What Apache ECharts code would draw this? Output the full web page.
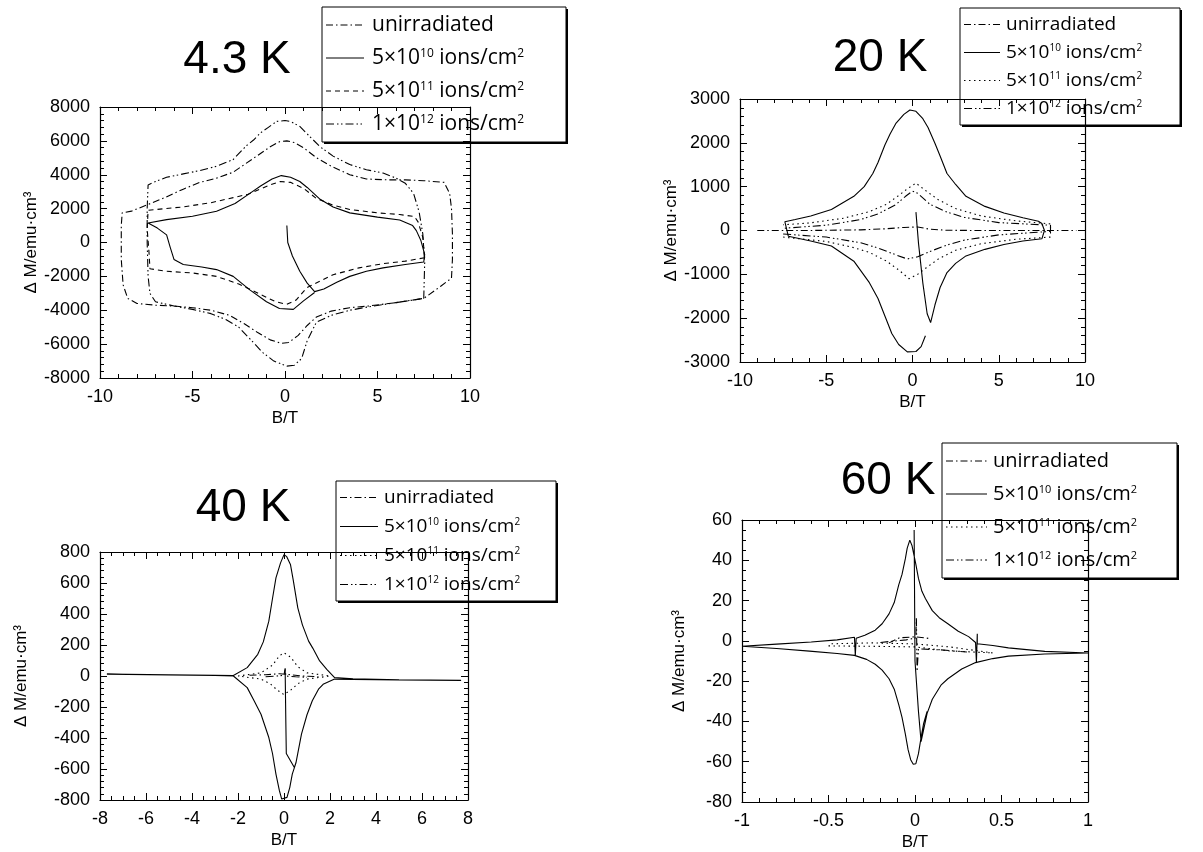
<!DOCTYPE html>
<html>
<head>
<meta charset="utf-8">
<script src="https://cdn.jsdelivr.net/npm/echarts@6/dist/echarts.min.js"></script>
<style>
  html, body { margin: 0; padding: 0; background: #ffffff; }
  #chart { width: 1203px; height: 852px; }
</style>
</head>
<body>
<div id="chart"></div>
<script>
// ---------- legend labels (rich text: {s|..} is a superscript) ----------
const legendLabels = [
  'unirradiated',
  '5×10{s|10} ions/cm{s|2}',
  '5×10{s|11} ions/cm{s|2}',
  '1×10{s|12} ions/cm{s|2}'
];
const panelTitles = ['4.3 K', '20 K', '40 K', '60 K'];
const yAxisTitle = 'Δ M/emu·cm³';
const xAxisTitle = 'B/T';

// ---------- axis ranges: [min, max, interval, minor splits] ----------
const t43X = [-10, 10, 5, 5],   t43Y = [-8000, 8000, 2000, 5];
const t20X = [-10, 10, 5, 5],   t20Y = [-3000, 3000, 1000, 5];
const t40X = [-8, 8, 2, 4],     t40Y = [-800, 800, 200, 5];
const t60X = [-1, 1, 0.5, 5],   t60Y = [-80, 60, 20, 4];

// ---------- 4.3 K loops [B (T), ΔM (emu/cm³)] ----------
const t43Unirr = [[9.0,-2100],[9.05,-1000],[9.05,500],[9.0,2000],[8.9,2900],[8.6,3550],[7.5,3650],[6.5,3700],[5.5,3700],[4.4,3750],[3.5,4000],[2.5,4500],[1.7,5000],[1.0,5600],[0.5,5900],[0.1,6000],[-0.3,5950],[-0.8,5650],[-1.4,5200],[-2.2,4600],[-2.8,4150],[-3.7,3800],[-4.6,3550],[-5.5,3150],[-6.5,2650],[-7.5,2200],[-8.3,1850],[-8.8,1750],[-8.85,1000],[-8.85,-1000],[-8.75,-2500],[-8.5,-3300],[-8.0,-3600],[-7.0,-3700],[-6.0,-3750],[-5.0,-3850],[-4.0,-4000],[-3.0,-4300],[-2.2,-4800],[-1.5,-5300],[-0.8,-5750],[-0.2,-5950],[0.2,-5900],[0.7,-5500],[1.2,-4900],[1.7,-4400],[2.5,-4050],[3.5,-3850],[4.5,-3750],[6.0,-3550],[7.5,-3300],[8.4,-2600],[9.0,-2100]];
const t43Low = [[0.1,1000],[0.15,0],[0.4,-800],[0.8,-1700],[1.2,-2400],[1.6,-2900],[2.1,-2750],[2.8,-2350],[3.5,-2000],[4.4,-1700],[5.3,-1500],[6.5,-1300],[7.5,-1150],[7.55,-700],[7.35,100],[7.1,700],[6.9,1000],[6.2,1330],[5.0,1500],[3.5,1750],[2.6,2100],[1.9,2550],[1.2,3250],[0.8,3600],[0.3,3850],[-0.2,3950],[-0.7,3750],[-1.3,3350],[-1.9,2900],[-2.7,2300],[-3.7,1850],[-5.0,1550],[-6.4,1350],[-7.4,1150],[-6.9,850],[-6.4,450],[-6.2,-300],[-6.0,-1000],[-5.5,-1300],[-4.5,-1450],[-3.7,-1600],[-2.8,-2000],[-1.9,-2800],[-1.0,-3500],[-0.3,-3900],[0.45,-3950],[1.0,-3450],[1.6,-2950]];
const t43Mid = [[7.55,-900],[7.45,300],[7.2,1200],[7.0,1530],[6.2,1650],[5.0,1750],[3.5,1950],[2.6,2200],[1.7,2600],[1.0,3200],[0.3,3550],[-0.27,3600],[-0.8,3400],[-1.35,3150],[-2.0,2850],[-2.8,2650],[-4.0,2350],[-5.5,2100],[-6.5,2000],[-7.4,1900],[-7.45,800],[-7.35,-600],[-7.3,-1550],[-6.4,-1700],[-5.0,-1800],[-3.7,-2000],[-2.5,-2450],[-1.35,-3050],[-0.5,-3500],[0.1,-3650],[0.6,-3400],[1.2,-2650],[2.6,-1900],[4.0,-1500],[5.3,-1250],[6.5,-1100],[7.55,-900]];
const t43High = [[7.5,-3300],[7.55,-1200],[7.45,500],[7.25,1800],[6.95,2900],[6.5,3500],[6.0,3800],[5.3,4100],[4.4,4300],[3.5,4600],[2.6,5100],[1.9,5650],[1.3,6300],[0.8,6850],[0.3,7150],[0.0,7200],[-0.45,7150],[-0.9,6800],[-1.35,6450],[-1.7,6050],[-2.1,5700],[-2.8,4900],[-3.7,4500],[-4.6,4250],[-5.5,4050],[-6.4,3850],[-7.0,3600],[-7.4,3400],[-7.45,2000],[-7.45,0],[-7.4,-2000],[-7.3,-3000],[-7.0,-3500],[-6.0,-3750],[-5.0,-3950],[-4.0,-4200],[-3.2,-4550],[-2.5,-5000],[-1.8,-5800],[-1.2,-6500],[-0.6,-7000],[0.1,-7300],[0.5,-7250],[0.9,-6850],[1.2,-5800],[1.7,-4700],[2.5,-4300],[3.5,-4000],[4.5,-3800],[6.0,-3550],[7.5,-3300]];

// ---------- 20 K loops ----------
const t20Unirr = [[-9.0,0],[-6.0,0],[-3.0,15],[-1.5,40],[-0.5,70],[0.3,80],[1.0,30],[2.0,5],[4.0,0],[7.0,0],[9.5,0]];
const t20Low = [[0.2,420],[0.35,-300],[0.6,-1200],[0.85,-1900],[1.05,-2100],[1.3,-1700],[1.6,-1300],[2.0,-960],[2.5,-750],[3.1,-580],[4.2,-430],[5.3,-320],[6.4,-240],[7.5,-190],[7.65,0],[7.5,160],[7.3,210],[6.4,290],[5.3,400],[4.2,550],[3.1,780],[2.5,1050],[2.0,1300],[1.6,1700],[1.3,1990],[0.9,2350],[0.6,2550],[0.2,2720],[-0.15,2750],[-0.5,2650],[-0.95,2450],[-1.3,2200],[-1.6,1950],[-2.0,1550],[-2.3,1300],[-2.8,1000],[-3.4,780],[-4.7,480],[-5.9,330],[-6.8,250],[-7.4,200],[-7.2,-130],[-5.9,-240],[-4.7,-355],[-3.4,-700],[-2.5,-1190],[-2.0,-1550],[-1.6,-1950],[-1.2,-2350],[-0.8,-2600],[-0.3,-2770],[0.2,-2760],[0.5,-2650],[0.75,-2400]];
const t20Mid = [[-7.5,-150],[-5.0,-250],[-3.5,-380],[-2.5,-500],[-1.5,-700],[-0.8,-900],[-0.2,-1100],[0.3,-1000],[0.8,-850],[1.5,-650],[2.5,-450],[4.0,-300],[6.0,-200],[8.0,-150],[8.0,150],[6.0,220],[4.0,330],[2.5,500],[1.5,700],[0.8,900],[0.2,1080],[-0.3,950],[-0.8,800],[-1.5,600],[-2.5,430],[-4.0,280],[-6.0,170],[-7.5,130]];
const t20High = [[-7.5,-80],[-5.0,-150],[-3.0,-280],[-2.0,-400],[-1.0,-550],[-0.3,-650],[0.3,-600],[1.0,-480],[2.0,-330],[3.0,-220],[5.0,-100],[8.0,-20],[8.0,120],[5.0,180],[3.0,300],[2.0,420],[1.0,600],[0.3,850],[0.0,900],[-0.4,780],[-1.0,580],[-2.0,380],[-3.0,250],[-5.0,120],[-7.5,50]];

// ---------- 40 K loops ----------
const t40Unirr = [[-1.5,5],[-0.8,8],[-0.2,15],[0.2,10],[0.8,0],[1.5,-5]];
const t40Low = [[0.05,40],[0.08,-300],[0.1,-500],[0.45,-590],[0.52,-560],[0.76,-375],[1.0,-250],[1.23,-160],[1.5,-85],[1.7,-54],[2.2,-20],[3.0,-22],[5.0,-25],[7.7,-28],[5.0,-24],[3.0,-18],[2.2,-10],[1.86,43],[1.55,97],[1.25,180],[1.07,225],[0.8,330],[0.6,440],[0.4,620],[0.28,720],[0.12,770],[0.0,783],[-0.15,730],[-0.35,633],[-0.5,500],[-0.66,354],[-0.9,220],[-1.14,140],[-1.6,54],[-2.2,3],[-3.0,5],[-5.0,8],[-7.7,12],[-5.0,6],[-3.0,3],[-2.2,0],[-1.6,-75],[-1.3,-160],[-1.0,-247],[-0.66,-397],[-0.5,-500],[-0.35,-633],[-0.2,-740],[-0.1,-794],[0.13,-783],[0.25,-720],[0.36,-633],[0.52,-560]];
const t40Mid = [[-2.0,0],[-1.0,20],[-0.5,70],[-0.2,130],[0.0,150],[0.3,120],[0.6,60],[1.0,20],[2.0,0],[1.0,-20],[0.6,-50],[0.3,-90],[0.0,-120],[-0.3,-90],[-0.6,-50],[-1.0,-20],[-2.0,0]];
const t40High = [[-0.8,-5],[-0.3,0],[0.0,5],[0.05,50],[0.08,0],[0.5,-5],[1.0,-8]];

// ---------- 60 K loops ----------
const t60Unirr = [[-0.15,-1],[-0.09,1.5],[0.0,2],[0.06,1.5],[0.09,1]];
const t60Low = [[-0.005,55],[0.0,-10],[0.02,-35],[0.035,-50],[0.045,-46],[0.07,-36],[0.1,-29],[0.15,-22],[0.19,-18.8],[0.27,-14],[0.35,-10.8],[0.45,-8.8],[0.54,-7.6],[0.75,-6.5],[1.0,-6.0],[0.75,-5.2],[0.54,-3.5],[0.45,-2.3],[0.36,-1.4],[0.36,3.5],[0.355,-10.8],[0.35,-0.8],[0.31,2.1],[0.25,4.8],[0.19,8.5],[0.14,11.5],[0.1,15],[0.06,21],[0.04,24.6],[0.02,31],[0.005,38],[-0.017,47.2],[-0.03,50],[-0.045,46],[-0.056,40.7],[-0.075,33],[-0.094,27.8],[-0.12,19],[-0.15,13.4],[-0.19,8.5],[-0.23,5.3],[-0.29,2.8],[-0.34,1.3],[-0.345,-7.2],[-0.35,1.8],[-0.45,0.5],[-0.6,-0.6],[-0.8,-1.6],[-1.0,-2.7],[-0.8,-3.8],[-0.61,-5.1],[-0.45,-6.3],[-0.35,-7.2],[-0.28,-9.2],[-0.23,-11.6],[-0.19,-14.5],[-0.15,-18.8],[-0.12,-24],[-0.094,-31.7],[-0.075,-38],[-0.056,-46.2],[-0.04,-54],[-0.025,-59],[-0.01,-61.3],[0.005,-61],[0.02,-56],[0.035,-48],[0.05,-41],[0.07,-35]];
const t60Mid = [[-0.5,-2.5],[-0.25,-2.7],[0.0,-3],[0.2,-5],[0.45,-6],[0.45,-5.5],[0.2,-3],[0.0,-1.5],[-0.25,-1],[-0.5,-1.5]];
const t60High = [[-0.2,-0.8],[-0.05,0.5],[0.005,1.5],[0.008,12],[0.012,-15],[0.02,-4],[0.15,-4.5],[0.3,-5.5]];

// ---------- line dash styles ----------
const DASH_DOT = [7, 3, 1.5, 3];
const DASHED = [5, 4];
const DOTTED = [1.5, 3.5];
const DASH_DOT_DOT = [8, 3, 1.5, 2.5, 1.5, 3];

const FONT = 'Liberation Sans, Arial, Helvetica, sans-serif';
const LEGEND_FONT = 'Open Sans, Liberation Sans, sans-serif';

// ---------- panel layout ----------
const panels = [
  { box: {left: 100, top: 107, width: 370, height: 271}, x: t43X, y: t43Y, nameGap: 58,
    series: [t43Unirr, t43Low, t43Mid, t43High], dashes: [DASH_DOT, 'solid', DASHED, DASH_DOT_DOT],
    title: [237, 60], legend: {x: 322, y: 7, w: 244, h: 135, row: 33, line: 38, tx: 50, font: 21} },
  { box: {left: 740, top: 99, width: 345, height: 263}, x: t20X, y: t20Y, nameGap: 58,
    series: [t20Unirr, t20Low, t20Mid, t20High], dashes: [DASH_DOT, 'solid', DOTTED, DASH_DOT_DOT],
    title: [880, 58], legend: {x: 960, y: 8, w: 220, h: 117, row: 28, line: 36, tx: 46, font: 19} },
  { box: {left: 100, top: 552, width: 368, height: 248}, x: t40X, y: t40Y, nameGap: 70,
    series: [t40Unirr, t40Low, t40Mid, t40High], dashes: [DASH_DOT, 'solid', DOTTED, DASH_DOT_DOT],
    title: [243, 508], legend: {x: 336, y: 481, w: 220, h: 120, row: 29, line: 38, tx: 48, font: 19} },
  { box: {left: 742, top: 520, width: 346, height: 290}, x: t60X, y: t60Y, nameGap: 54,
    series: [t60Unirr, t60Low, t60Mid, t60High], dashes: [DASH_DOT, 'solid', DOTTED, DASH_DOT_DOT],
    title: [888, 481], legend: {x: 942, y: 443, w: 235, h: 135, row: 33, line: 41, tx: 51, font: 20} }
];

const plain = v => String(Math.round(v * 1000) / 1000);

function axisCommon(range, extra) {
  return Object.assign({
    type: 'value', min: range[0], max: range[1], interval: range[2],
    axisLine: { show: true, onZero: false, lineStyle: { color: '#000', width: 1.2 } },
    axisTick: { show: true, inside: true, length: 7, lineStyle: { color: '#000', width: 1 } },
    minorTick: { show: true, splitNumber: range[3], length: 4, lineStyle: { color: '#000', width: 1 } },
    splitLine: { show: false },
    minorSplitLine: { show: false }
  }, extra);
}

const grids = [], xAxes = [], yAxes = [], series = [], graphics = [];

panels.forEach((p, i) => {
  grids.push(Object.assign({ containLabel: false }, p.box));
  xAxes.push(axisCommon(p.x, {
    gridIndex: i, position: 'bottom',
    axisLabel: { color: '#000', fontSize: 18, fontFamily: FONT, margin: 10, formatter: plain },
    name: xAxisTitle, nameLocation: 'middle', nameGap: 32,
    nameTextStyle: { color: '#000', fontSize: 17, fontFamily: FONT }
  }));
  xAxes.push(axisCommon(p.x, { gridIndex: i, position: 'top', axisLabel: { show: false } }));
  yAxes.push(axisCommon(p.y, {
    gridIndex: i, position: 'left',
    axisLabel: { color: '#000', fontSize: 18, fontFamily: FONT, margin: 10, formatter: plain },
    name: yAxisTitle, nameLocation: 'middle', nameGap: p.nameGap, nameRotate: 90,
    nameTextStyle: { color: '#000', fontSize: 17, fontFamily: FONT }
  }));
  yAxes.push(axisCommon(p.y, { gridIndex: i, position: 'right', axisLabel: { show: false } }));

  p.series.forEach((data, k) => {
    series.push({
      type: 'line', name: 'p' + i + 's' + k,
      xAxisIndex: 2 * i, yAxisIndex: 2 * i,
      data: data, showSymbol: false, symbol: 'none', clip: true,
      lineStyle: { color: '#000', width: 1.1, type: p.dashes[k] },
      animation: false, silent: true
    });
  });

  // panel title
  graphics.push({
    type: 'text', x: p.title[0], y: p.title[1], z: 50,
    style: { text: panelTitles[i], font: '46px ' + FONT, fill: '#000', align: 'center', verticalAlign: 'middle' }
  });

  // boxed legend with drop shadow
  const L = p.legend;
  const kids = [
    { type: 'rect', shape: { x: L.x + 2, y: L.y + 2, width: L.w, height: L.h }, style: { fill: '#000' } },
    { type: 'rect', shape: { x: L.x, y: L.y, width: L.w, height: L.h }, style: { fill: '#fff', stroke: '#000', lineWidth: 1 } }
  ];
  const pad = (L.h - 4 * L.row) / 2;
  legendLabels.forEach((lab, k) => {
    const cy = L.y + pad + (k + 0.5) * L.row;
    const dash = p.dashes[k];
    kids.push({
      type: 'line', shape: { x1: L.x + 4, y1: cy, x2: L.x + 4 + L.line, y2: cy },
      style: { stroke: '#000', lineWidth: 1, lineDash: dash === 'solid' ? null : dash }
    });
    kids.push({
      type: 'text', x: L.x + L.tx, y: cy,
      style: {
        text: lab, fill: '#000', fontSize: L.font, fontFamily: LEGEND_FONT,
        align: 'left', verticalAlign: 'middle',
        rich: { s: { fontSize: Math.round(L.font * 0.55), fontFamily: LEGEND_FONT, verticalAlign: 'top', fill: '#000' } }
      }
    });
  });
  graphics.push({ type: 'group', z: 100, children: kids });
});

const chart = echarts.init(document.getElementById('chart'), null, { renderer: 'canvas' });
chart.setOption({
  animation: false,
  backgroundColor: '#ffffff',
  textStyle: { fontFamily: FONT, color: '#000' },
  grid: grids,
  xAxis: xAxes,
  yAxis: yAxes,
  series: series,
  graphic: graphics
});
</script>
</body>
</html>
